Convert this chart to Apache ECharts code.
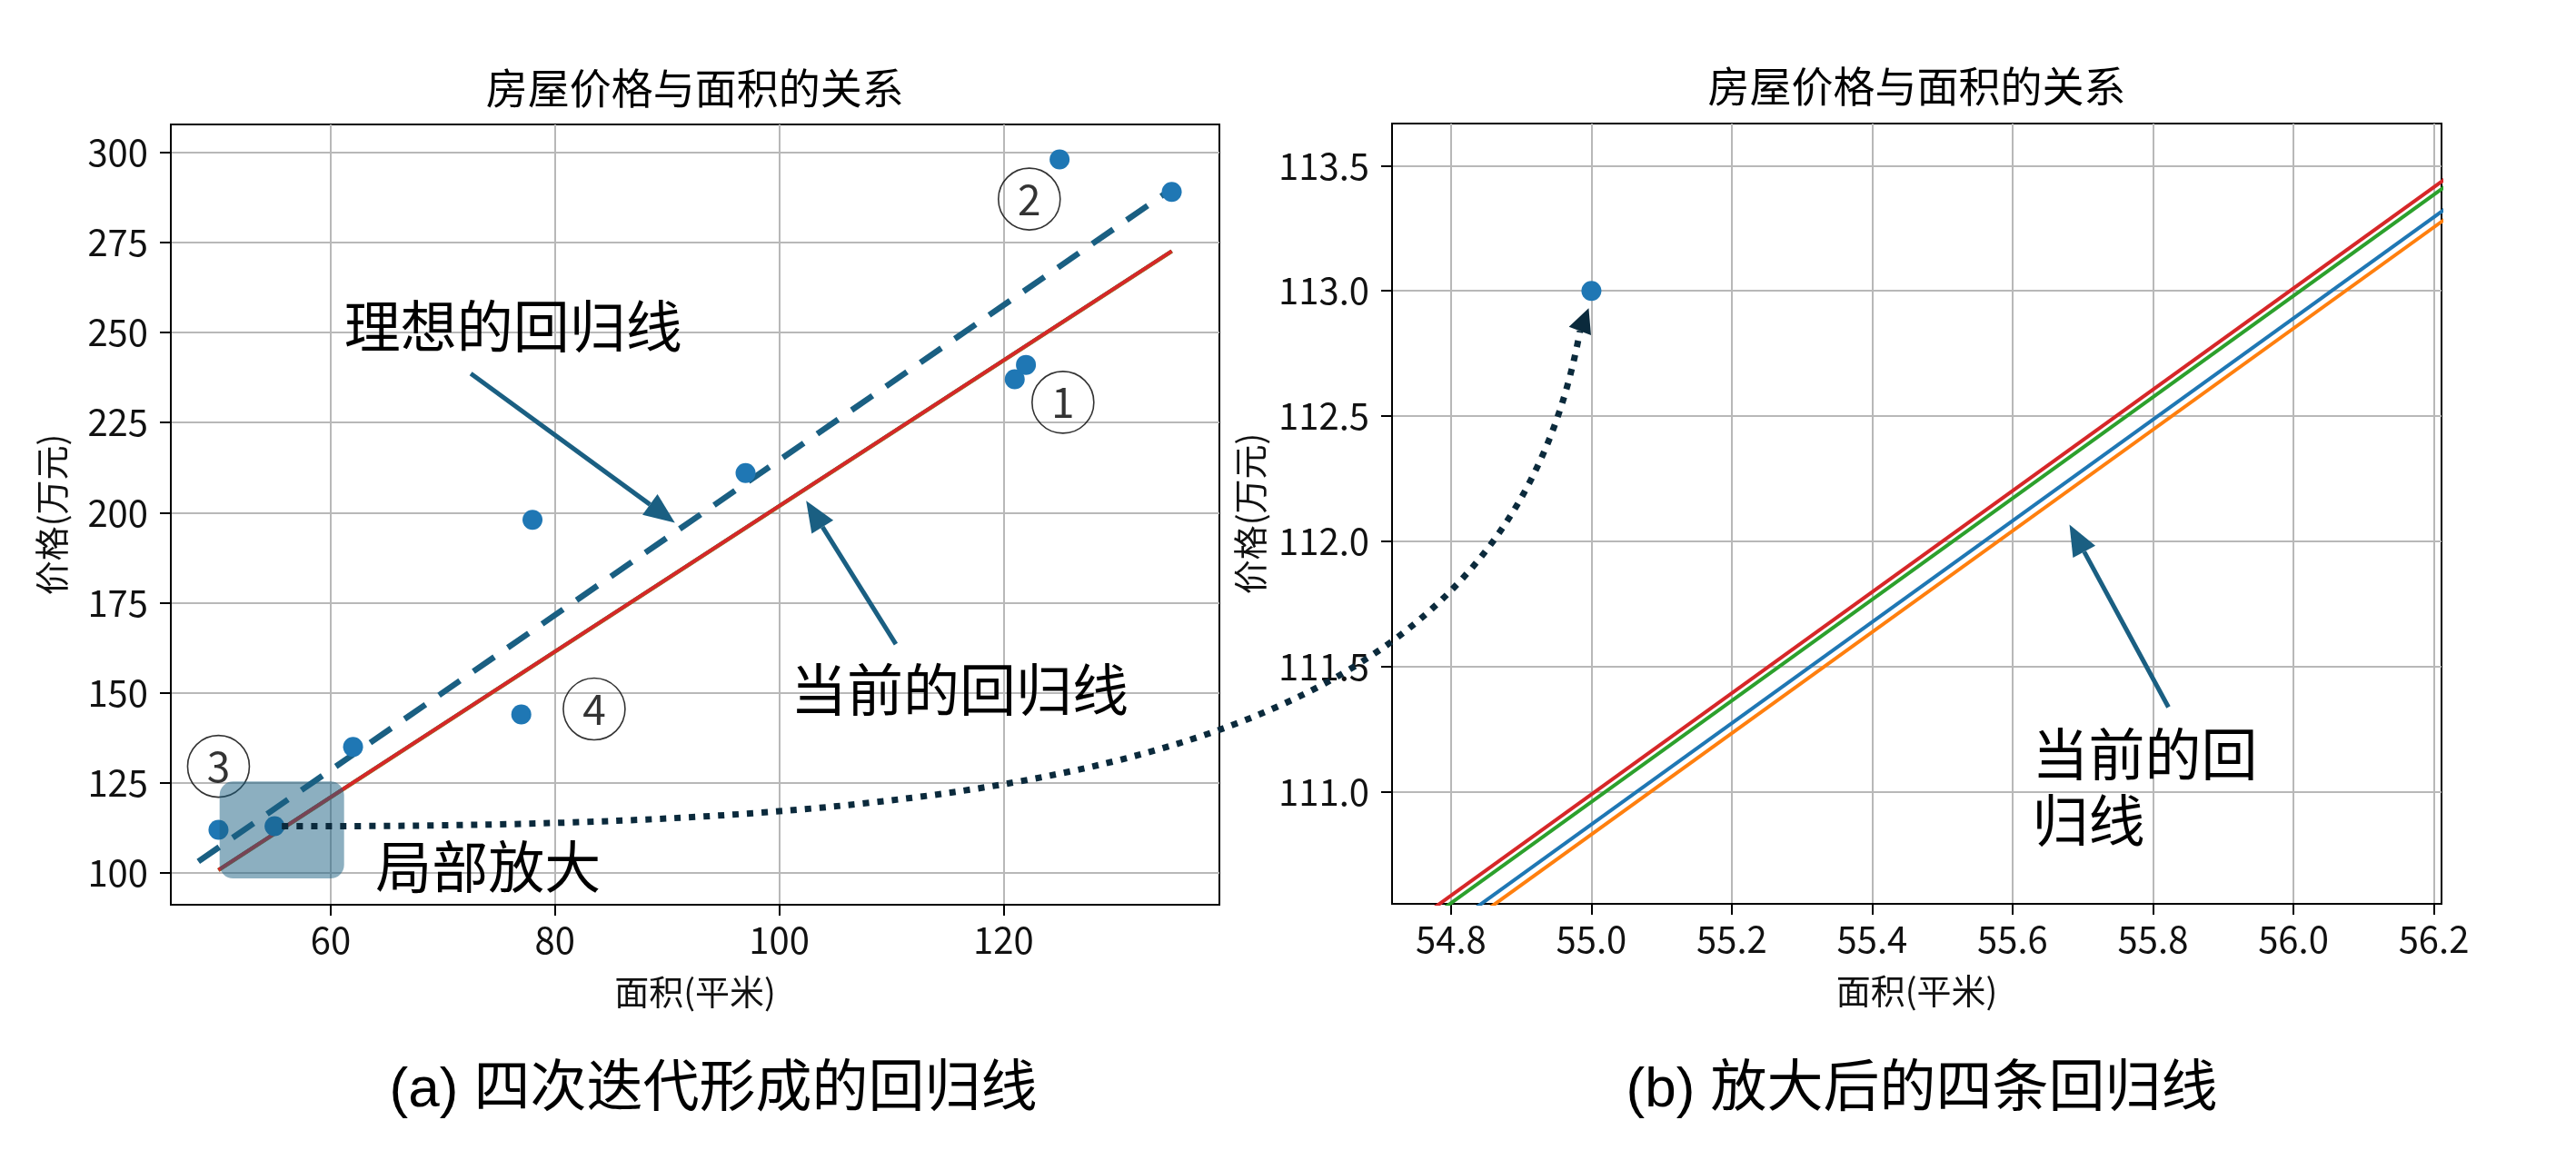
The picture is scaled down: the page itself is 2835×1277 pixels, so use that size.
<!DOCTYPE html>
<html>
<head>
<meta charset="utf-8">
<script src="https://cdn.jsdelivr.net/npm/echarts@6/dist/echarts.min.js"></script>
<style>
  html, body { margin: 0; padding: 0; background: #fff; }
  #main { width: 2835px; height: 1277px; }
</style>
</head>
<body>
<div id="main"></div>
<script>
// 样本点：面积(平米) / 价格(万元)
var areaData  = [50, 55, 62, 77, 78, 97, 121, 122, 125, 135];
var priceData = [112, 113, 135, 144, 198, 211, 237, 241, 298, 289];

// 四次迭代得到的回归线（两端点，x = 50 与 135）
var lineX      = [50, 135];
var lineBlue   = [100.77, 272.47];
var lineOrange = [100.73, 272.43];
var lineGreen  = [100.86, 272.56];
var lineRed    = [100.89, 272.59];

// 理想的回归线（虚线）
var idealX = [48.2, 135];
var idealY = [103.2, 289.8];

// 刻度
var xTicksLeft  = [60, 80, 100, 120];
var yTicksLeft  = [100, 125, 150, 175, 200, 225, 250, 275, 300];
var xTicksRight = [54.8, 55.0, 55.2, 55.4, 55.6, 55.8, 56.0, 56.2];
var yTicksRight = [111.0, 111.5, 112.0, 112.5, 113.0, 113.5];

var font = '"Noto Sans CJK SC", sans-serif';
var chart = echarts.init(document.getElementById('main'));

function pairs(xs, ys) {
  return xs.map(function (x, i) { return [x, ys[i]]; });
}

function makeXAxis(gi, min, max, ticks, fmt) {
  return {
    type: 'value', gridIndex: gi, min: min, max: max,
    axisLine: { show: true, onZero: false, lineStyle: { color: '#000', width: 2 } },
    axisTick: { show: true, length: 12, customValues: ticks, lineStyle: { color: '#000', width: 2 } },
    axisLabel: { customValues: ticks, formatter: fmt, fontSize: 40, color: '#111', margin: 19, fontFamily: font },
    splitLine: { show: true, lineStyle: { color: '#b8b8b8', width: 2 } },
    name: '面积(平米)', nameLocation: 'middle', nameGap: 77,
    nameTextStyle: { fontSize: 38, color: '#111', fontFamily: font }
  };
}
function makeYAxis(gi, min, max, ticks, fmt, gap) {
  return {
    type: 'value', gridIndex: gi, min: min, max: max,
    axisLine: { show: true, onZero: false, lineStyle: { color: '#000', width: 2 } },
    axisTick: { show: true, length: 12, customValues: ticks, lineStyle: { color: '#000', width: 2 } },
    axisLabel: { customValues: ticks, formatter: fmt, fontSize: 40, color: '#111', margin: 25, fontFamily: font },
    splitLine: { show: true, lineStyle: { color: '#b8b8b8', width: 2 } },
    name: '价格(万元)', nameLocation: 'middle', nameGap: gap,
    nameTextStyle: { fontSize: 38, color: '#111', fontFamily: font }
  };
}
function fix1(v) { return Number(v).toFixed(1); }
function int0(v) { return String(Math.round(v)); }

function regLine(name, ys, color, gi) {
  return {
    name: name, type: 'line', xAxisIndex: gi, yAxisIndex: gi,
    data: pairs(lineX, ys), symbol: 'none', silent: true,
    lineStyle: { color: color, width: 4 }, z: 3
  };
}

var series = [];
[0, 1].forEach(function (gi) {
  series.push(regLine('迭代1', lineBlue, '#1f77b4', gi));
  series.push(regLine('迭代2', lineOrange, '#ff7f0e', gi));
  series.push(regLine('迭代3', lineGreen, '#2ca02c', gi));
  series.push(regLine('迭代4', lineRed, '#d62728', gi));
  series.push({
    type: 'scatter', xAxisIndex: gi, yAxisIndex: gi,
    data: pairs(areaData, priceData), symbolSize: 22, clip: true,
    itemStyle: { color: '#1f77b4', opacity: 1 }, z: 4
  });
});
// 理想回归线
series.push({
  type: 'line', xAxisIndex: 0, yAxisIndex: 0, data: pairs(idealX, idealY),
  symbol: 'none', silent: true,
  lineStyle: { color: '#1a5f82', width: 6.5, type: [28, 18] }, z: 3
});
// 圆圈编号
series.push({
  type: 'scatter', xAxisIndex: 0, yAxisIndex: 0, symbolSize: 68, silent: true,
  data: [
    { name: '1', value: [125.3, 230.6] },
    { name: '2', value: [122.3, 287.0] },
    { name: '3', value: [50.0, 129.6] },
    { name: '4', value: [83.5, 145.5] }
  ],
  itemStyle: { color: 'rgba(255,255,255,0)', borderColor: '#000', borderWidth: 1.6 },
  label: { show: true, position: 'inside', formatter: '{b}', fontSize: 46, color: '#000', fontFamily: font },
  z: 5
});

chart.setOption({
  animation: false,
  backgroundColor: '#fff',
  grid: [
    { left: 188, top: 137, width: 1154, height: 859, show: true, borderColor: '#000', borderWidth: 2 },
    { left: 1532, top: 136, width: 1155, height: 859, show: true, borderColor: '#000', borderWidth: 2 }
  ],
  xAxis: [
    makeXAxis(0, 45.75, 139.25, xTicksLeft, int0),
    makeXAxis(1, 54.716, 56.211, xTicksRight, fix1)
  ],
  yAxis: [
    makeYAxis(0, 91.2, 307.7, yTicksLeft, int0, 112),
    makeYAxis(1, 110.553, 113.668, yTicksRight, fix1, 137)
  ],
  series: series
});

// ---- 注释：文字、箭头、局部放大框、虚点曲线 ----
function px(gi, x, y) { return chart.convertToPixel({ gridIndex: gi }, [x, y]); }

function arrow(p0, p1, color, w, headLen, headW) {
  var dx = p1[0] - p0[0], dy = p1[1] - p0[1];
  var len = Math.sqrt(dx * dx + dy * dy), ux = dx / len, uy = dy / len;
  var bx = p1[0] - ux * headLen, by = p1[1] - uy * headLen;
  return [
    { type: 'line', z: 60, shape: { x1: p0[0], y1: p0[1], x2: bx, y2: by }, style: { stroke: color, lineWidth: w } },
    { type: 'polygon', z: 60, shape: { points: [p1, [bx - uy * headW / 2, by + ux * headW / 2], [bx + uy * headW / 2, by - ux * headW / 2]] }, style: { fill: color } }
  ];
}
function label(p, text, size, align, lh) {
  return {
    type: 'text', z: 60, x: p[0], y: p[1],
    style: { text: text, fontSize: size, fontFamily: '"Liberation Sans", "Noto Sans CJK SC", sans-serif', fill: '#000',
      align: align, verticalAlign: 'middle', textAlign: align, textVerticalAlign: 'middle', lineHeight: lh || size * 1.2 }
  };
}

var elements = [];
elements.push(label([764.75, 101], '房屋价格与面积的关系', 46, 'center'));
elements.push(label([2109.5, 99], '房屋价格与面积的关系', 46, 'center'));
elements.push(label([785, 1201], '(a) 四次迭代形成的回归线', 62, 'center'));
elements.push(label([2115, 1201], '(b) 放大后的四条回归线', 62, 'center'));

elements.push(label(px(0, 61.2, 249.9), '理想的回归线', 62, 'left'));
elements.push(label(px(0, 101.0, 149.1), '当前的回归线', 62, 'left'));
elements.push(label(px(0, 64.0, 100.0), '局部放大', 62, 'left'));
elements.push(label(px(1, 55.628, 110.993), '当前的回\n归线', 62, 'left', 73));

var arrowColor = '#1a5f82';
elements = elements.concat(arrow(px(0, 72.5, 238.6), px(0, 90.7, 197.2), arrowColor, 5, 34, 28));
elements = elements.concat(arrow(px(0, 110.4, 163.5), px(0, 102.4, 203.3), arrowColor, 5, 34, 28));
elements = elements.concat(arrow(px(1, 55.822, 111.338), px(1, 55.681, 112.067), arrowColor, 5, 34, 28));

// 局部放大框
var r0 = px(0, 50.1, 125.4), r1 = px(0, 61.2, 98.5);
elements.push({
  type: 'rect', z: 50,
  shape: { x: r0[0], y: r0[1], width: r1[0] - r0[0], height: r1[1] - r0[1], r: 15 },
  style: { fill: 'rgba(26,95,130,0.5)' }
});

// 从左图点(55,113)连到右图同一点的虚点曲线
var p0 = px(0, 55, 113), pR = px(1, 55, 113);
var tip = [pR[0] - 3, pR[1] + 19];
var hx = 0.355, hy = -0.935, hl = 27, hw = 26;
var base = [tip[0] - hx * hl, tip[1] - hy * hl];
var ddx = base[0] - p0[0], ddy = base[1] - p0[1];
elements.push({
  type: 'bezierCurve', z: 55,
  shape: {
    x1: p0[0] + 8, y1: p0[1],
    cpx1: p0[0] + 0.6 * ddx, cpy1: p0[1] + 2,
    cpx2: p0[0] + 0.94 * ddx, cpy2: p0[1] + 0.14 * ddy,
    x2: base[0], y2: base[1]
  },
  style: { stroke: '#0b2a3c', lineWidth: 7, lineDash: [7, 9], fill: null }
});
elements.push({
  type: 'polygon', z: 55,
  shape: { points: [tip, [base[0] - hy * hw / 2, base[1] + hx * hw / 2], [base[0] + hy * hw / 2, base[1] - hx * hw / 2]] },
  style: { fill: '#0b2a3c' }
});

chart.setOption({ graphic: { elements: elements } });
</script>
</body>
</html>
